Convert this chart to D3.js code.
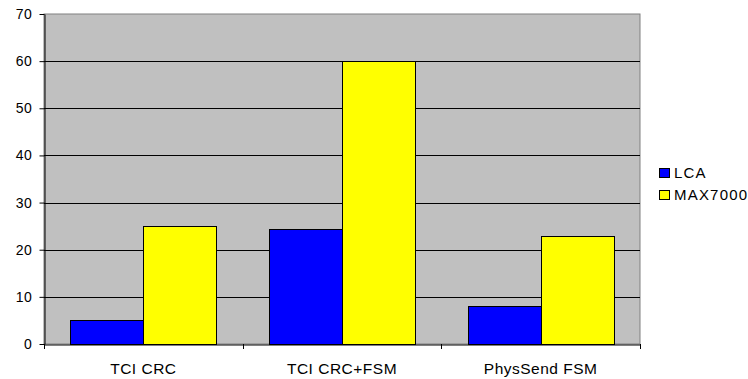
<!DOCTYPE html>
<html><head><meta charset="utf-8">
<script src="https://cdn.jsdelivr.net/npm/d3@7"></script>
<style>body{margin:0;background:#fff}svg{display:block}text{font-family:"Liberation Sans",Arial,sans-serif}</style>
</head><body><svg id="c" width="748" height="379"></svg>
<script>
const categories = ["TCI CRC", "TCI CRC+FSM", "PhysSend FSM"];
const seriesNames = ["LCA", "MAX7000"];
const lcaValues = [5, 24.3, 8];
const max7000Values = [25, 60, 23];
const yTicks = [0, 10, 20, 30, 40, 50, 60, 70];
const colors = ["#0000ff", "#ffff00"];

const svg = d3.select("#c");
const L = 44, R = 640, T = 14, B = 344;
const x = d3.scaleBand().domain(categories).range([L, R]).paddingInner(0).paddingOuter(0);
const y = d3.scaleLinear().domain([0, 70]).range([B, T]);
const inner = d3.scaleBand().domain(seriesNames).range([0, x.bandwidth()]).paddingInner(0).paddingOuter(0.36);

svg.append("rect").attr("x", L).attr("y", T).attr("width", R - L).attr("height", B - T)
  .attr("fill", "#c0c0c0").attr("stroke", "#808080").attr("stroke-width", 1);

svg.append("g").selectAll("line").data(yTicks.filter(d => d > 0 && d < 70)).join("line")
  .attr("x1", L).attr("x2", R).attr("y1", d => Math.round(y(d)) + 0.5).attr("y2", d => Math.round(y(d)) + 0.5)
  .attr("stroke", "#000").attr("stroke-width", 1);

const data = categories.map((c, i) => ({c, vals: [lcaValues[i], max7000Values[i]]}));
const g = svg.append("g");
data.forEach(d => {
  d.vals.forEach((v, j) => {
    g.append("rect")
      .attr("x", Math.round(x(d.c) + inner(seriesNames[j])) + 0.5)
      .attr("y", Math.round(y(v)) + 0.5)
      .attr("width", Math.round(inner.bandwidth()))
      .attr("height", Math.round(y(0)) - Math.round(y(v)))
      .attr("fill", colors[j]).attr("stroke", "#000").attr("stroke-width", 1);
  });
});

const ya = svg.append("g").attr("transform", `translate(${L + 0.5},0)`)
  .call(d3.axisLeft(y).tickValues(yTicks).tickSize(5).tickPadding(7).tickSizeOuter(0));
ya.select(".domain").attr("stroke", "#000");
ya.selectAll("line").attr("stroke", "#000");
ya.selectAll("text").attr("font-size", 14).attr("letter-spacing", 0.6).attr("fill", "#000")
  .attr("font-family", "Liberation Sans, Arial, sans-serif");

const xa = svg.append("g").attr("transform", `translate(0,${B + 0.5})`)
  .call(d3.axisBottom(x).tickSize(0).tickPadding(18));
xa.select(".domain").attr("stroke", "#000");
xa.selectAll("text").attr("font-size", 15.5).attr("letter-spacing", 0.5).attr("fill", "#000")
  .attr("font-family", "Liberation Sans, Arial, sans-serif");
svg.append("g").selectAll("line").data(d3.range(categories.length + 1)).join("line")
  .attr("x1", i => Math.round(L + i * x.bandwidth()) + 0.5).attr("x2", i => Math.round(L + i * x.bandwidth()) + 0.5)
  .attr("y1", B).attr("y2", B + 5).attr("stroke", "#000");

const lg = svg.append("g");
seriesNames.forEach((s, i) => {
  lg.append("rect").attr("x", 659.5).attr("y", 168.5 + i * 22).attr("width", 10).attr("height", 9)
    .attr("fill", colors[i]).attr("stroke", "#000");
  lg.append("text").attr("x", 674).attr("y", 178 + i * 22).attr("font-size", 15)
    .attr("letter-spacing", 1.2).text(s);
});
</script></body></html>
